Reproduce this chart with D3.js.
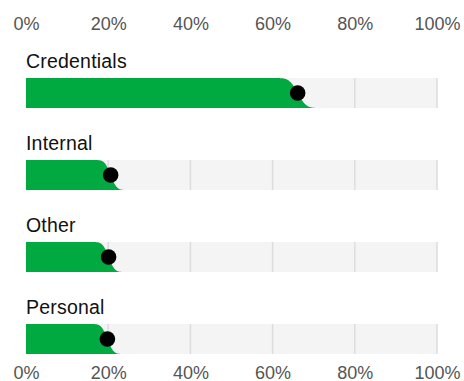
<!DOCTYPE html>
<html>
<head>
<meta charset="utf-8">
<script src="https://cdn.jsdelivr.net/npm/d3@7"></script>
<style>
  html, body { margin: 0; padding: 0; background: #fff; }
  svg { display: block; }
  text { font-family: "Liberation Sans", Arial, sans-serif; }
</style>
</head>
<body>
<svg id="chart" width="464" height="381"></svg>
<script>
const categories = ["Credentials", "Internal", "Other", "Personal"];
const values = [66.1, 20.6, 20.1, 19.8];      // percent
const spreads = [1.6, 1.15, 1.15, 1.15];       // uncertainty (sd, percent)
const tickValues = [0, 20, 40, 60, 80, 100];
const tickLabels = ["0%", "20%", "40%", "60%", "80%", "100%"];

const svg = d3.select("#chart");
const x = d3.scaleLinear().domain([0, 100]).range([26, 437]);
const y = d3.scaleBand().domain(categories).range([78, 354]).paddingInner(52 / 82).paddingOuter(0);
const h = y.bandwidth();

function normCdf(z) {
  const t = 1 / (1 + 0.3275911 * Math.abs(z) / Math.SQRT2);
  const a = [0.254829592, -0.284496736, 1.421413741, -1.453152027, 1.061405429];
  const poly = t * (a[0] + t * (a[1] + t * (a[2] + t * (a[3] + t * a[4]))));
  const erf = 1 - poly * Math.exp(-z * z / 2);
  return z >= 0 ? 0.5 * (1 + erf) : 0.5 * (1 - erf);
}

// tick labels top & bottom
const fmt = (d, i) => tickLabels[i];
const axTop = d3.axisTop(x).tickValues(tickValues).tickFormat(fmt).tickSize(0).tickPadding(0);
const axBot = d3.axisBottom(x).tickValues(tickValues).tickFormat(fmt).tickSize(0).tickPadding(0);
const gTop = svg.append("g").attr("transform", "translate(0,29.5)").call(axTop);
const gBot = svg.append("g").attr("transform", "translate(0,366)").call(axBot);
[gTop, gBot].forEach(g => {
  g.select(".domain").remove();
  g.selectAll("text").attr("font-size", 18).attr("fill", "#555")
    .attr("font-family", "Liberation Sans, Arial, sans-serif");
});
gTop.selectAll("text").attr("dy", 0);
gBot.selectAll("text").attr("dy", "0.72em");

const rows = svg.selectAll("g.row").data(categories).join("g").attr("class", "row");

// labels
rows.append("text")
  .attr("x", x(0))
  .attr("y", d => y(d) - 10.5)
  .attr("font-size", 19.5)
  .attr("letter-spacing", 0.2)
  .attr("fill", "#111")
  .text(d => d);

// track
rows.append("rect")
  .attr("x", x(0)).attr("y", d => y(d))
  .attr("width", x(100) - x(0)).attr("height", h)
  .attr("fill", "#f4f4f4");

// gridlines
rows.each(function (d) {
  d3.select(this).selectAll("line.grid").data(tickValues.slice(1)).join("line")
    .attr("class", "grid")
    .attr("x1", t => x(t)).attr("x2", t => x(t))
    .attr("y1", y(d)).attr("y2", y(d) + h)
    .attr("stroke", "#dcdcdc").attr("stroke-width", 1.5);
});

// green uncertainty bars
const xs = d3.range(0, 100.01, 0.1);
rows.append("path")
  .attr("fill", "#00aa40")
  .attr("d", (d, i) => {
    const top = y(d), v = values[i], s = spreads[i];
    const pts = xs.filter(p => normCdf((p - v) / s) < 0.999);
    const area = d3.area()
      .x(p => x(p))
      .y0(top + h)
      .y1(p => top + h * normCdf((p - v) / s));
    return area(pts);
  });

// dots
rows.append("circle")
  .attr("cx", (d, i) => x(values[i]))
  .attr("cy", d => y(d) + h / 2)
  .attr("r", 7.8)
  .attr("fill", "#000");
</script>
</body>
</html>
